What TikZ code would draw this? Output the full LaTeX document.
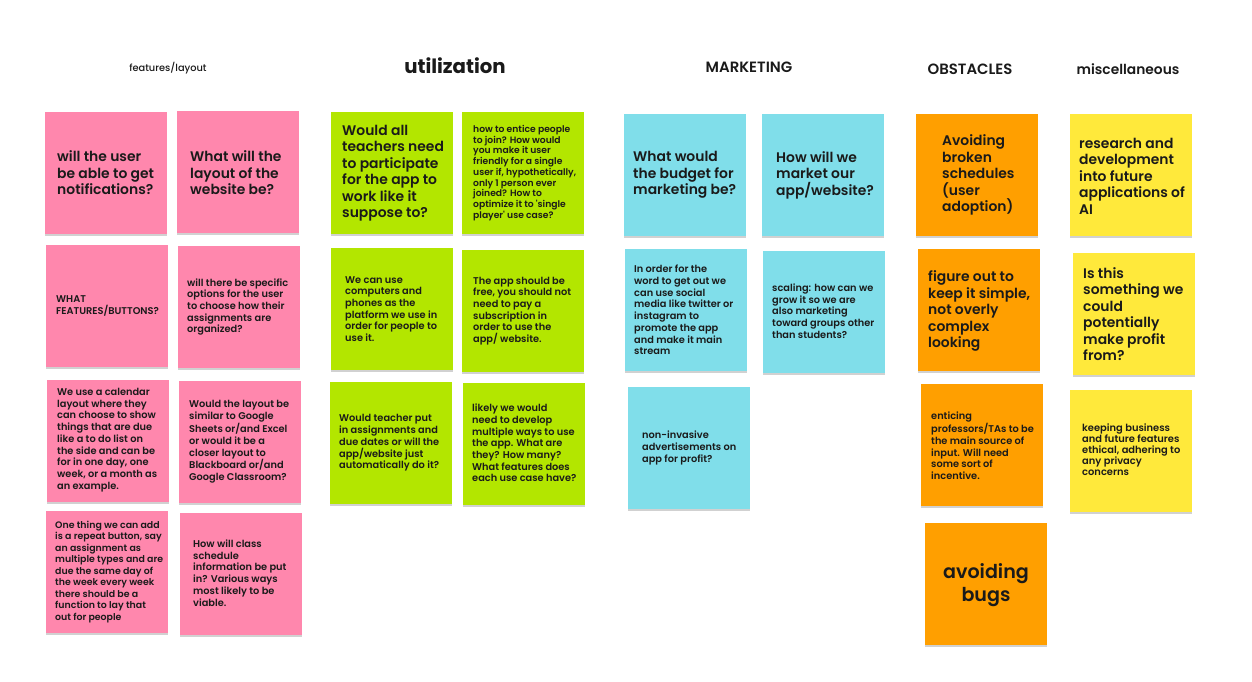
\documentclass[tikz,border=0pt]{standalone}
\usepackage{fontspec}
\setmainfont{Poppins}
\newfontfamily\semib{Poppins SemiBold}
\newfontfamily\medf{Poppins Medium}
\newfontfamily\boldf{Poppins Bold}
\usetikzlibrary{shadows}

\definecolor{ink}{HTML}{1A1A1A}
\definecolor{pinknote}{HTML}{FF87AD}
\definecolor{greennote}{HTML}{B3E600}
\definecolor{bluenote}{HTML}{80DEEA}
\definecolor{orangenote}{HTML}{FF9F00}
\definecolor{yellownote}{HTML}{FFE93B}

\tikzset{
  note/.style={fill=#1, draw=none, minimum width=122pt, minimum height=122pt, inner sep=0pt,
    drop shadow={shadow xshift=0pt, shadow yshift=-1.5pt, opacity=0.18, fill=black}},
  big/.style={anchor=west, align=left, inner sep=0pt, text=ink, font=\semib\fontsize{13.9}{16.5}\selectfont},
  small/.style={anchor=west, align=left, inner sep=0pt, text=ink, font=\semib\fontsize{9.8}{11.7}\selectfont},
  huge/.style={align=center, inner sep=0pt, text=ink, font=\semib\fontsize{19.1}{23.5}\selectfont},
  head/.style={inner sep=0pt, text=ink},
}

\begin{document}
\begin{tikzpicture}[x=1pt, y=-1pt]
\useasboundingbox[fill=white] (0,0) rectangle (1252,682);

% column headings
\node[head, font=\medf\fontsize{9.8}{12}\selectfont] (hfeat) at (168,68) {features/layout};
\node[head, font=\boldf\fontsize{19.7}{23}\selectfont] (hutil) at (455,66) {utilization};
\node[head, font=\semib\fontsize{14.9}{17}\selectfont] (hmark) at (749,67) {MARKETING};
\node[head, font=\semib\fontsize{14.9}{17}\selectfont] (hobst) at (970,69) {OBSTACLES};
\node[head, font=\semib\fontsize{13.8}{16}\selectfont] (hmisc) at (1128,69) {miscellaneous};

% features/layout
\node[note=pinknote] (n1) at (106,173) {};
\node[note=pinknote] (n2) at (238,172) {};
\node[note=pinknote] (n3) at (107,306) {};
\node[note=pinknote] (n4) at (239,307) {};
\node[note=pinknote] (n5) at (108,441) {};
\node[note=pinknote] (n6) at (240,442) {};
\node[note=pinknote] (n7) at (107,572) {};
\node[note=pinknote] (n8) at (241,574) {};
\node[big] (n1t) at (57,173) {will the user\\be able to get\\notifications?};
\node[big] (n2t) at (190,173) {What will the\\layout of the\\website be?};
\node[small] (n3t) at (56,306) {WHAT\\FEATURES/BUTTONS?};
\node[small] (n4t) at (187,307) {will there be specific\\options for the user\\to choose how their\\assignments are\\organized?};
\node[small] (n5t) at (57,440) {We use a calendar\\layout where they\\can choose to show\\things that are due\\like a to do list on\\the side and can be\\for in one day, one\\week, or a month as\\an example.};
\node[small] (n6t) at (189,442) {Would the layout be\\similar to Google\\Sheets or/and Excel\\or would it be a\\closer layout to\\Blackboard or/and\\Google Classroom?};
\node[small, font=\semib\fontsize{9.4}{11.5}\selectfont] (n7t) at (55,572) {One thing we can add\\is a repeat button, say\\an assignment as\\multiple types and are\\due the same day of\\the week every week\\there should be a\\function to lay that\\out for people};
\node[small] (n8t) at (193,573) {How will class\\schedule\\information be put\\in? Various ways\\most likely to be\\viable.};

% utilization
\node[note=greennote] (g1) at (392,173) {};
\node[note=greennote] (g2) at (523,173) {};
\node[note=greennote] (g3) at (392,309) {};
\node[note=greennote] (g4) at (523,311) {};
\node[note=greennote] (g5) at (391,443) {};
\node[note=greennote] (g6) at (524,444) {};
\node[big] (g1t) at (342,173) {Would all\\teachers need\\to participate\\for the app to\\work like it\\suppose to?};
\node[small, font=\semib\fontsize{9.2}{10.7}\selectfont] (g2t) at (473,173) {how to entice people\\to join? How would\\you make it user\\friendly for a single\\user if, hypothetically,\\only 1 person ever\\joined? How to\\optimize it to \textquotesingle single\\player\textquotesingle\ use case?};
\node[small] (g3t) at (345,309) {We can use\\computers and\\phones as the\\platform we use in\\order for people to\\use it.};
\node[small] (g4t) at (473,311) {The app should be\\free, you should not\\need to pay a\\subscription in\\order to use the\\app/ website.};
\node[small] (g5t) at (339,443) {Would teacher put\\in assignments and\\due dates or will the\\app/website just\\automatically do it?};
\node[small] (g6t) at (472,443) {likely we would\\need to develop\\multiple ways to use\\the app. What are\\they? How many?\\What features does\\each use case have?};

% marketing
\node[note=bluenote] (b1) at (685,175) {};
\node[note=bluenote] (b2) at (823,175) {};
\node[note=bluenote] (b3) at (686,310) {};
\node[note=bluenote] (b4) at (824,312) {};
\node[note=bluenote] (b5) at (689,448) {};
\node[big] (b1t) at (633,175) {What would\\the budget for\\marketing be?};
\node[big] (b2t) at (776,175) {How will we\\market our\\app/website?};
\node[small] (b3t) at (634,310) {In order for the\\word to get out we\\can use social\\media like twitter or\\instagram to\\promote the app\\and make it main\\stream};
\node[small] (b4t) at (772,311) {scaling: how can we\\grow it so we are\\also marketing\\toward groups other\\than students?};
\node[small] (b5t) at (642,448) {non-invasive\\advertisements on\\app for profit?};

% obstacles
\node[note=orangenote] (o1) at (977,175) {};
\node[note=orangenote] (o2) at (979,310) {};
\node[note=orangenote] (o3) at (982,445) {};
\node[note=orangenote] (o4) at (986,584) {};
\node[big] (o1t) at (942,175) {Avoiding\\broken\\schedules\\(user\\adoption)};
\node[big] (o2t) at (928,311) {figure out to\\keep it simple,\\not overly\\complex\\looking};
\node[small] (o3t) at (931,446) {enticing\\professors/TAs to be\\the main source of\\input. Will need\\some sort of\\incentive.};
\node[huge] (o4t) at (986,585) {avoiding\\bugs};

% miscellaneous
\node[note=yellownote] (y1) at (1131,175) {};
\node[note=yellownote] (y2) at (1134,314) {};
\node[note=yellownote] (y3) at (1131,451) {};
\node[big] (y1t) at (1079,176) {research and\\development\\into future\\applications of\\AI};
\node[big] (y2t) at (1083,314) {Is this\\something we\\could\\potentially\\make profit\\from?};
\node[small, font=\semib\fontsize{9.9}{11}\selectfont] (y3t) at (1082,450) {keeping business\\and future features\\ethical, adhering to\\any privacy\\concerns};
\end{tikzpicture}
\end{document}
